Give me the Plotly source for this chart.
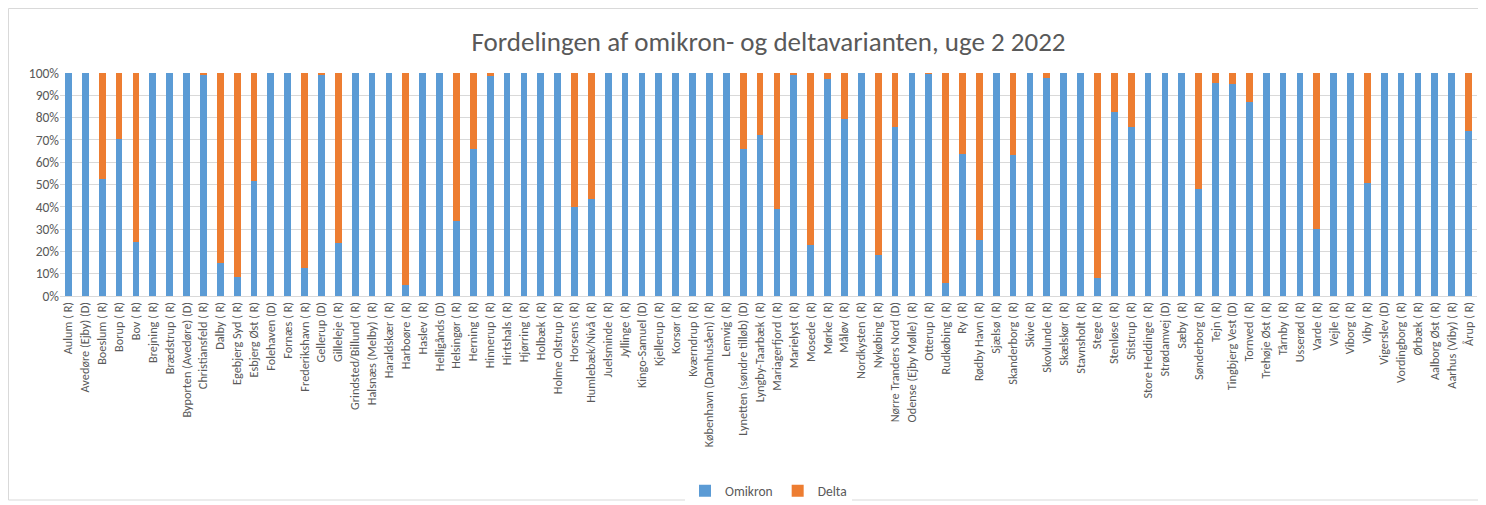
import plotly.graph_objects as go

categories = [
    "Aulum ( R)", "Avedøre (Ejby) (D)", "Boeslum ( R)", "Borup ( R)", "Bov ( R)",
    "Brejning ( R)", "Brædstrup ( R)", "Byporten (Avedøre) (D)", "Christiansfeld ( R)", "Dalby ( R)",
    "Egebjerg Syd ( R)", "Esbjerg Øst ( R)", "Folehaven (D)", "Fornæs ( R)", "Frederikshavn ( R)",
    "Gellerup (D)", "Gilleleje ( R)", "Grindsted/Billund ( R)", "Halsnæs (Melby) ( R)", "Haraldskær ( R)",
    "Harboøre ( R)", "Haslev ( R)", "Helligånds (D)", "Helsingør ( R)", "Herning ( R)",
    "Hinnerup ( R)", "Hirtshals ( R)", "Hjørring ( R)", "Holbæk ( R)", "Holme Olstrup ( R)",
    "Horsens ( R)", "Humlebæk/Nivå ( R)", "Juelsminde ( R)", "Jyllinge ( R)", "Kingo-Samuel (D)",
    "Kjellerup ( R)", "Korsør ( R)", "Kværndrup ( R)", "København (Damhusåen) ( R)", "Lemvig ( R)",
    "Lynetten (søndre tilløb) (D)", "Lyngby-Taarbæk ( R)", "Mariagerfjord ( R)", "Marielyst ( R)", "Mosede ( R)",
    "Mørke ( R)", "Måløv ( R)", "Nordkysten ( R)", "Nykøbing ( R)", "Nørre Tranders Nord (D)",
    "Odense (Ejby Mølle) ( R)", "Otterup ( R)", "Rudkøbing ( R)", "Ry ( R)", "Rødby Havn ( R)",
    "Sjælsø ( R)", "Skanderborg ( R)", "Skive ( R)", "Skovlunde ( R)", "Skælskør ( R)",
    "Stavnsholt ( R)", "Stege ( R)", "Stenløse ( R)", "Stistrup ( R)", "Store Heddinge ( R)",
    "Strødamvej (D)", "Sæby ( R)", "Sønderborg ( R)", "Tejn ( R)", "Tingbjerg Vest (D)",
    "Tornved ( R)", "Trehøje Øst ( R)", "Tårnby ( R)", "Usserød ( R)", "Varde ( R)",
    "Vejle ( R)", "Viborg ( R)", "Viby ( R)", "Vigerslev (D)", "Vordingborg ( R)",
    "Ørbæk ( R)", "Aalborg Øst ( R)", "Aarhus (Viby) ( R)", "Årup ( R)",
]

omikron = [
    100, 100, 52.5, 70.5, 24.3,
    100, 100, 100, 99.4, 15.0,
    8.7, 51.7, 100, 100, 12.7,
    98.9, 23.7, 100, 100, 100,
    4.9, 100, 100, 33.7, 65.7,
    98.8, 100, 100, 100, 100,
    39.9, 43.5, 100, 100, 100,
    100, 100, 100, 100, 100,
    65.7, 72.0, 38.8, 99.4, 22.9,
    97.5, 79.2, 100, 18.3, 75.9,
    100, 99.7, 5.7, 63.9, 25.2,
    100, 63.3, 100, 97.8, 100,
    100, 8.1, 82.5, 75.6, 100,
    100, 100, 48.0, 95.7, 95.1,
    87.1, 100, 100, 100, 30.0,
    100, 100, 50.5, 100, 100,
    100, 100, 100, 74.1,
]

delta = [round(100 - v, 1) for v in omikron]

FONT = "Carlito, Calibri, Lato, 'Open Sans', sans-serif"
GREY = "#595959"

fig = go.Figure()
fig.add_trace(go.Bar(x=categories, y=omikron, name="Omikron", marker_color="#5B9BD5",
                     marker_line_width=0))
fig.add_trace(go.Bar(x=categories, y=delta, name="Delta", marker_color="#ED7D31",
                     marker_line_width=0))

# page body has an 8px margin, so the figure is placed at (8, 8)
W, H = 1478, 497
ml, mr, mt, mb = 52, 9, 65, 209
pw, ph = W - ml - mr, H - mt - mb

fig.update_layout(
    width=W, height=H,
    barmode="stack", barnorm="percent", bargap=0.6,
    paper_bgcolor="white", plot_bgcolor="white",
    margin=dict(l=ml, r=mr, t=mt, b=mb, autoexpand=False),
    title=dict(text="Fordelingen af omikron- og deltavarianten, uge 2 2022",
               x=0.5, xref="paper", xanchor="center", y=1 - 34 / H, yanchor="middle",
               font=dict(family=FONT, size=27, color=GREY)),
    font=dict(family=FONT, color=GREY),
    legend=dict(orientation="h", x=0.5, xanchor="center", xref="paper",
                y=-(483 - (H - mb)) / ph, yanchor="middle",
                font=dict(family=FONT, size=13.5, color=GREY),
                itemwidth=30, traceorder="normal"),
    xaxis=dict(tickangle=-90, tickfont=dict(size=12.3, color=GREY), showgrid=False,
               showline=True, linecolor="#D9D9D9", linewidth=1, ticks="",
               range=[-0.5, len(categories) - 0.5]),
    yaxis=dict(range=[0, 100], dtick=10, ticksuffix="%", tickfont=dict(size=13.5, color=GREY),
               showgrid=True, gridcolor="#D9D9D9", gridwidth=1, zeroline=False,
               showline=False, ticks="", fixedrange=True),
    shapes=[dict(type="rect", xref="paper", yref="paper",
                 x0=(0.5 - ml) / pw, x1=(1473 - ml) / pw,
                 y0=-(492 - (H - mb)) / ph, y1=1 + (mt - 0.5) / ph,
                 line=dict(color="#D9D9D9", width=1), layer="below")],
)

fig.write_html("out.html")
